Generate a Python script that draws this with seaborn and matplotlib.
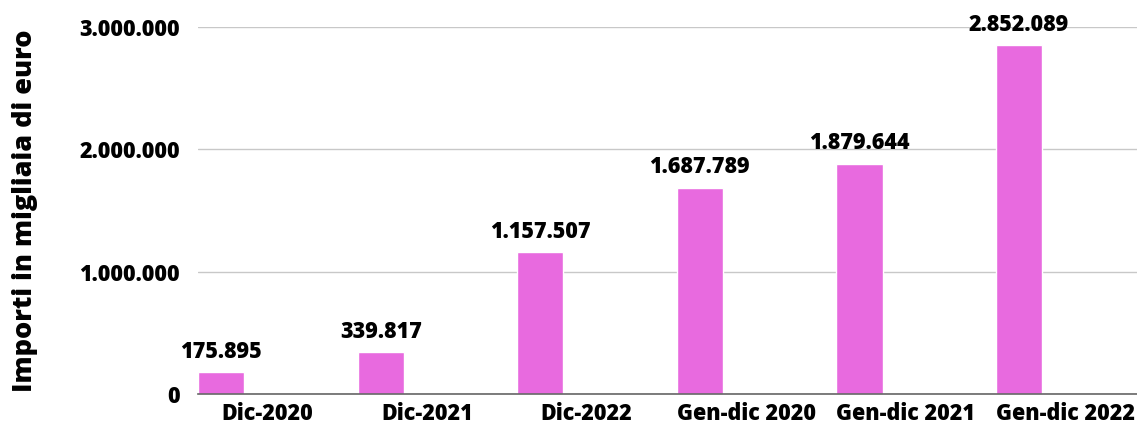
import matplotlib
matplotlib.use("Agg")
import matplotlib.pyplot as plt
import seaborn as sns
import pandas as pd

# dati: importi in migliaia di euro
categorie = ["Dic-2020", "Dic-2021", "Dic-2022", "Gen-dic 2020", "Gen-dic 2021", "Gen-dic 2022"]
importi = [175895, 339817, 1157507, 1687789, 1879644, 2852089]
etichette_y = ["0", "1.000.000", "2.000.000", "3.000.000"]
valori_y = [0, 1000000, 2000000, 3000000]

sns.set_style("white")
plt.rcParams["font.family"] = ["Open Sans", "DejaVu Sans"]
plt.rcParams["text.color"] = "black"
plt.rcParams["xtick.color"] = "black"
plt.rcParams["ytick.color"] = "black"
plt.rcParams["axes.labelcolor"] = "black"


def fmt(v):
    return f"{v:,}".replace(",", ".")


df = pd.DataFrame({"categoria": categorie, "importo": importi})

fig = plt.figure(figsize=(11.37, 4.26), dpi=100)
ax = fig.add_axes([198 / 1137, 32 / 426, 1 - 198 / 1137, 367 / 426])

sns.barplot(data=df, x="categoria", y="importo", color="#E86ADF", width=0.29,
            saturation=1, ax=ax)

# etichette sopra le barre
for i, v in enumerate(importi):
    ax.text(i, v + 70000, fmt(v), ha="center", va="bottom", fontsize=15.5,
            fontweight="heavy", clip_on=False)

ax.set_ylim(0, 3000000)
ax.set_xlim(-0.145, 5.74)
ax.set_yticks(valori_y)
ax.set_yticklabels(etichette_y, fontsize=15.5, fontweight="heavy")
ax.set_xticks([i + 0.29 for i in range(len(categorie))])
ax.set_xticklabels(categorie, fontsize=15.5, fontweight="heavy")
ax.tick_params(axis="x", length=0, pad=6)
ax.tick_params(axis="y", length=0, pad=13)

ax.grid(axis="y", color="#c8c8c8", linewidth=1)
ax.set_axisbelow(True)
for s in ["top", "right", "left"]:
    ax.spines[s].set_visible(False)
ax.spines["bottom"].set_color("#666666")
ax.spines["bottom"].set_linewidth(1.2)

ax.set_xlabel("")
ax.set_ylabel("Importi in migliaia di euro", fontsize=19.5, fontweight="heavy")
ax.yaxis.set_label_coords(-0.170, 0.5)

fig.savefig("out.png", dpi=100)
